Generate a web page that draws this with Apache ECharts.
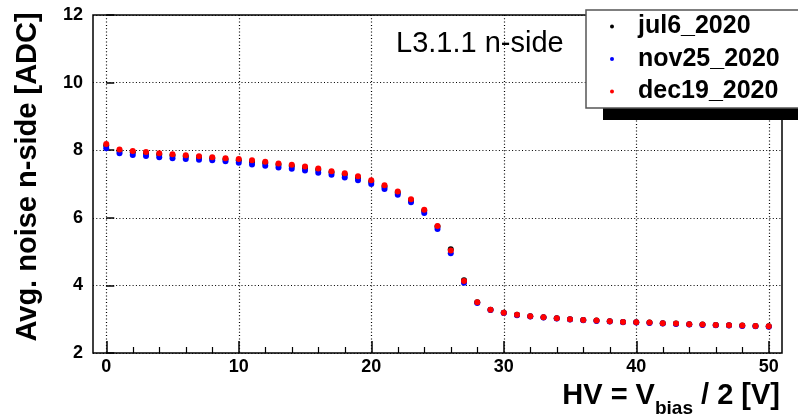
<!DOCTYPE html>
<html>
<head>
<meta charset="utf-8">
<script src="https://cdn.jsdelivr.net/npm/echarts@6/dist/echarts.min.js"></script>
<style>html,body{margin:0;padding:0;background:#fff;}#c{width:798px;height:414px;}</style>
</head>
<body>
<div id="c"></div>
<script>
// HV = Vbias/2 [V]
const hv = [0,1,2,3,4,5,6,7,8,9,10,11,12,13,14,15,16,17,18,19,20,21,22,23,24,25,26,27,28,29,30,31,32,33,34,35,36,37,38,39,40,41,42,43,44,45,46,47,48,49,50];
const jul6_2020 = [8.14,7.98,7.94,7.91,7.87,7.84,7.81,7.79,7.76,7.73,7.70,7.66,7.62,7.57,7.53,7.48,7.42,7.35,7.28,7.19,7.07,6.92,6.74,6.52,6.21,5.74,5.07,4.15,3.50,3.28,3.19,3.13,3.09,3.06,3.03,3.00,2.98,2.96,2.94,2.92,2.91,2.90,2.88,2.87,2.85,2.84,2.83,2.82,2.81,2.80,2.79];
const nov25_2020 = [8.06,7.91,7.86,7.83,7.79,7.76,7.74,7.72,7.70,7.67,7.63,7.58,7.54,7.49,7.45,7.40,7.33,7.27,7.19,7.11,7.00,6.85,6.68,6.46,6.14,5.67,4.95,4.08,3.48,3.27,3.18,3.12,3.08,3.05,3.02,2.99,2.97,2.95,2.93,2.91,2.90,2.89,2.87,2.86,2.84,2.83,2.82,2.81,2.80,2.79,2.78];
const dec19_2020 = [8.18,8.02,7.98,7.95,7.91,7.88,7.85,7.82,7.79,7.76,7.74,7.70,7.66,7.61,7.57,7.52,7.46,7.38,7.32,7.23,7.11,6.96,6.78,6.55,6.24,5.76,5.03,4.13,3.50,3.28,3.19,3.13,3.09,3.06,3.03,3.00,2.98,2.96,2.94,2.92,2.91,2.90,2.88,2.87,2.85,2.84,2.83,2.82,2.81,2.80,2.79];
const xMajorTicks = [0,10,20,30,40,50];
const xMinorTicks = [2,4,6,8,12,14,16,18,22,24,26,28,32,34,36,38,42,44,46,48];
const seriesNames = ['jul6_2020','nov25_2020','dec19_2020'];
const seriesValues = [jul6_2020, nov25_2020, dec19_2020];
const seriesColors = ['#000000','#0000ff','#ff0000'];

const FONT = "'Liberation Sans', Arial, Helvetica, sans-serif";
const chart = echarts.init(document.getElementById('c'), null, {renderer:'canvas'});

const series = seriesNames.map((name, k) => ({
  name: name,
  type: 'scatter',
  xAxisIndex: 0,
  yAxisIndex: 0,
  symbol: 'circle',
  symbolSize: 6,
  clip: false,
  itemStyle: {color: seriesColors[k], opacity: 1},
  emphasis: {disabled: true},
  z: 3 + k,
  data: hv.map((x, i) => [x, seriesValues[k][i]])
}));

chart.setOption({
  animation: false,
  backgroundColor: '#fff',
  textStyle: {fontFamily: FONT},
  grid: {left: 93, right: 16, top: 15, bottom: 61, show: true, borderColor: '#000', borderWidth: 1.5, backgroundColor: 'transparent'},
  xAxis: [{
    type: 'value', min: -1, max: 51, position: 'bottom',
    axisLine: {show: false},
    axisTick: {show: true, inside: true, length: 12, customValues: xMajorTicks, lineStyle: {color: '#000', width: 1.5}},
    axisLabel: {show: true, customValues: xMajorTicks, fontSize: 18, fontWeight: 'bold', color: '#000', margin: 5, fontFamily: FONT},
    splitLine: {show: true, lineStyle: {color: '#000', width: 1.2, type: [1, 2.3]}},
    minorTick: {show: false}
  }, {
    type: 'value', min: -1, max: 51, position: 'bottom', gridIndex: 0,
    axisLine: {show: false},
    axisTick: {show: true, inside: true, length: 6, customValues: xMinorTicks, lineStyle: {color: '#000', width: 1.2}},
    axisLabel: {show: false},
    splitLine: {show: false}
  }],
  yAxis: {
    type: 'value', min: 2, max: 12, interval: 2,
    axisLine: {show: false},
    axisTick: {show: true, inside: true, length: 8, lineStyle: {color: '#000', width: 1.5}},
    axisLabel: {fontSize: 18, fontWeight: 'bold', color: '#000', margin: 10, fontFamily: FONT},
    splitLine: {show: true, lineStyle: {color: '#000', width: 1.2, type: [1, 2.3]}}
  },
  legend: {
    data: seriesNames,
    orient: 'vertical',
    left: 605, top: 9,
    itemWidth: 42, itemHeight: 4,
    itemGap: 7.5,
    icon: 'circle',
    selectedMode: false,
    z: 20,
    textStyle: {fontSize: 25, fontWeight: 'bold', color: '#000', lineHeight: 25, fontFamily: FONT}
  },
  graphic: [
    {type: 'rect', z: 15, shape: {x: 603, y: 27, width: 240, height: 93}, style: {fill: '#000'}},
    {type: 'rect', z: 16, shape: {x: 586, y: 10, width: 240, height: 98}, style: {fill: '#fff', stroke: '#555', lineWidth: 1.5}},
    {type: 'text', z: 10, x: 396, y: 44, style: {text: 'L3.1.1 n-side', font: "29px " + FONT, fill: '#000', textAlign: 'left', textVerticalAlign: 'middle'}},
    {type: 'text', z: 10, x: 28, y: 177, rotation: Math.PI / 2, style: {text: 'Avg. noise n-side [ADC]', font: "bold 29px " + FONT, fill: '#000', textAlign: 'center', textVerticalAlign: 'middle'}},
    {type: 'text', z: 10, x: 780, y: 374, style: {
      text: '{a|HV = V}{b|bias}{a| / 2 [V]}',
      align: 'right', verticalAlign: 'top',
      rich: {
        a: {font: "bold 29px " + FONT, fill: '#000', lineHeight: 44, verticalAlign: 'middle'},
        b: {font: "bold 19px " + FONT, fill: '#000', lineHeight: 20, verticalAlign: 'bottom'}
      }
    }}
  ],
  series: series
});
</script>
</body>
</html>
